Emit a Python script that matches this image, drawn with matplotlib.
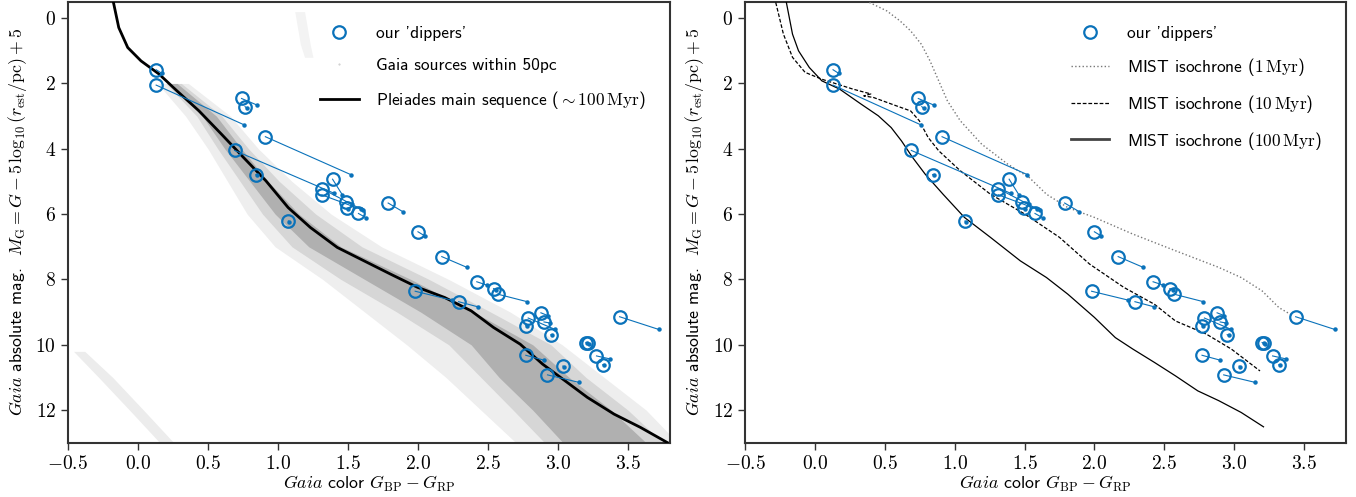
import numpy as np
import matplotlib
matplotlib.use("Agg")
from matplotlib import pyplot as plt
from matplotlib.lines import Line2D
from matplotlib.ticker import FormatStrFormatter, MultipleLocator

plt.rcParams['font.family'] = ['cmss10', 'DejaVu Sans']
plt.rcParams['mathtext.fontset'] = 'cm'
plt.rcParams['axes.unicode_minus'] = False

# dippers: observed position and end of the extinction vector
dip_col = [0.13, 0.13, 0.74, 0.765, 0.91, 0.69, 0.843, 1.074, 1.39, 1.313, 1.313, 1.485,
           1.494, 1.575, 1.787, 2.0, 2.17, 1.98, 2.29, 2.42, 2.54, 2.57, 2.878, 2.787,
           2.77, 2.90, 2.95, 3.20, 3.215, 2.77, 3.035, 2.925, 3.275, 3.32, 3.44]
dip_mag = [1.58, 2.05, 2.46, 2.71, 3.63, 4.05, 4.79, 6.21, 4.93, 5.22, 5.41, 5.62,
           5.82, 5.98, 5.66, 6.54, 7.30, 8.36, 8.68, 8.07, 8.28, 8.45, 9.02, 9.18,
           9.41, 9.30, 9.69, 9.93, 9.95, 10.32, 10.65, 10.92, 10.34, 10.61, 9.14]
end_col = [0.17, 0.76, 0.85, 0.78, 1.52, 1.40, 0.85, 1.08, 1.46, 1.59, 1.61, 1.53,
           1.50, 1.63, 1.89, 2.05, 2.35, 2.24, 2.43, 2.49, 2.56, 2.78, 2.93, 2.98,
           2.78, 2.94, 2.96, 3.21, 3.22, 2.90, 3.045, 3.15, 3.37, 3.33, 3.72]
end_mag = [1.69, 3.27, 2.66, 2.76, 4.79, 5.36, 4.81, 6.23, 5.41, 5.84, 5.88, 5.70,
           5.84, 6.11, 5.92, 6.67, 7.63, 8.63, 8.84, 8.17, 8.32, 8.68, 9.11, 9.53,
           9.43, 9.33, 9.71, 9.95, 9.97, 10.47, 10.67, 11.15, 10.43, 10.63, 9.53]

# Pleiades main sequence
ple_col = [-0.175, -0.137, -0.073, 0.022, 0.15, 0.277, 0.436, 0.596, 0.755, 0.914, 1.073,
           1.232, 1.424, 1.615, 1.806, 1.997, 2.19, 2.38, 2.54, 2.73, 2.89, 3.05, 3.21,
           3.40, 3.59, 3.78]
ple_mag = [-0.48, 0.29, 0.90, 1.31, 1.71, 2.22, 2.84, 3.55, 4.27, 4.98, 5.80,
           6.41, 7.02, 7.43, 7.84, 8.24, 8.55, 8.96, 9.47, 9.98, 10.59, 11.10, 11.61,
           12.12, 12.53, 12.99]

# Gaia 50pc density, drawn as bands (edges in colour at given magnitudes)
band_mag = [2.0, 3.0, 4.0, 5.0, 6.0, 7.0, 8.0, 9.0, 10.0, 11.0, 12.0, 13.2]
halo_lo = [0.14, 0.34, 0.50, 0.64, 0.78, 0.98, 1.32, 1.62, 1.92, 2.20, 2.45, 2.75]
halo_hi = [0.36, 0.66, 0.86, 1.10, 1.38, 1.74, 2.22, 2.66, 3.03, 3.33, 3.63, 3.90]
mid_lo = [0.20, 0.42, 0.57, 0.73, 0.89, 1.10, 1.45, 1.85, 2.22, 2.45, 2.68, 2.95]
mid_hi = [0.31, 0.60, 0.79, 1.01, 1.27, 1.60, 2.08, 2.52, 2.95, 3.20, 3.50, 3.80]
core_lo = [0.24, 0.46, 0.62, 0.80, 0.98, 1.22, 1.62, 2.02, 2.38, 2.58, 2.82, 3.08]
core_hi = [0.28, 0.56, 0.74, 0.93, 1.15, 1.45, 1.95, 2.40, 2.82, 3.08, 3.38, 3.68]
wd_mag = [10.2, 11.0, 12.0, 13.2]
wd_lo = [-0.46, -0.28, -0.06, 0.20]
wd_hi = [-0.38, -0.18, 0.04, 0.30]
gb_mag = [-0.2, 0.3, 0.8, 1.2]
gb_lo = [1.12, 1.14, 1.16, 1.19]
gb_hi = [1.19, 1.21, 1.23, 1.25]

# MIST isochrones
i1_col = [0.39, 0.515, 0.608, 0.685, 0.762, 0.824, 0.886, 0.948, 1.04, 1.194, 1.38, 1.534,
          1.657, 1.81, 2.0, 2.275, 2.58, 2.89, 3.05, 3.20, 3.32, 3.42]
i1_mag = [-0.48, -0.22, 0.08, 0.39, 0.80, 1.31, 1.92, 2.53, 3.14, 3.86, 4.47, 4.88,
          5.39, 5.80, 6.10, 6.61, 7.12, 7.63, 7.94, 8.35, 8.86, 9.11]
i10_col = [-0.28, -0.225, -0.16, -0.07, 0.05, 0.27, 0.33, 0.40, 0.35, 0.42, 0.58, 0.685,
           0.747, 0.81, 0.886, 1.04, 1.256, 1.503, 1.75, 1.966, 2.21, 2.43, 2.58, 2.80,
           2.98, 3.185]
i10_mag = [-0.48, 0.49, 1.20, 1.66, 1.87, 2.17, 2.24, 2.32, 2.38, 2.43, 2.68, 2.84,
           3.14, 3.65, 4.06, 4.67, 5.39, 6.0, 6.71, 7.53, 8.24, 8.76, 9.27, 9.67,
           10.13, 10.80]
i100_col = [-0.204, -0.16, -0.117, -0.04, 0.05, 0.176, 0.33, 0.454, 0.546, 0.62, 0.70, 0.79,
            0.917, 1.07, 1.256, 1.47, 1.657, 1.81, 2.0, 2.15, 2.275, 2.43, 2.58, 2.74,
            2.89, 3.05, 3.21]
i100_mag = [-0.48, 0.49, 1.0, 1.51, 1.92, 2.17, 2.63, 2.99, 3.35, 3.76, 4.27, 4.78,
            5.39, 6.10, 6.71, 7.43, 7.94, 8.45, 9.16, 9.78, 10.13, 10.54, 10.95, 11.41,
            11.71, 12.07, 12.51]

blue = '#0a72ba'


def draw_dippers(ax):
    for k in range(len(dip_col)):
        ax.plot([dip_col[k], end_col[k]], [dip_mag[k], end_mag[k]], color=blue, lw=0.8, zorder=4)
    ax.plot(end_col, end_mag, 'o', color=blue, ms=2.2, zorder=4)
    ax.plot(dip_col, dip_mag, 'o', mfc='none', mec=blue, mew=1.6, ms=9, zorder=5)


def style(ax):
    ax.set_xlim(-0.5, 3.8)
    ax.set_ylim(13.0, -0.5)
    ax.xaxis.set_major_locator(MultipleLocator(0.5))
    ax.yaxis.set_major_locator(MultipleLocator(2))
    ax.xaxis.set_major_formatter(FormatStrFormatter('$%.1f$'))
    ax.yaxis.set_major_formatter(FormatStrFormatter('$%d$'))
    ax.tick_params(direction='out', length=5, width=1.0, labelsize=14, color='#333333')
    for s in ax.spines.values():
        s.set_color('#333333')
        s.set_linewidth(1.5)
    ax.set_xlabel(r'$\mathit{Gaia}$ color $G_{\rm BP} - G_{\rm RP}$', fontsize=12.8, labelpad=1)
    ax.set_ylabel(r'$\mathit{Gaia}$ absolute mag.  $M_{\rm G} = G - 5\,\log_{10}(r_{\rm est}/{\rm pc}) + 5$',
                  fontsize=12.8, labelpad=5)


fig = plt.figure(figsize=(13.56, 4.97), dpi=100)
ax1 = fig.add_axes([0.0501, 0.109, 0.444, 0.8874])
ax2 = fig.add_axes([0.5494, 0.109, 0.4432, 0.8874])

# left panel
ax1.fill_betweenx(band_mag, halo_lo, halo_hi, color='#eeeeee', lw=0, zorder=1)
ax1.fill_betweenx(band_mag, mid_lo, mid_hi, color='#d6d6d6', lw=0, zorder=1)
ax1.fill_betweenx(band_mag, core_lo, core_hi, color='#b0b0b0', lw=0, zorder=1)
ax1.fill_betweenx(wd_mag, wd_lo, wd_hi, color='#ececec', lw=0, zorder=1)
ax1.fill_betweenx(gb_mag, gb_lo, gb_hi, color='#f3f3f3', lw=0, zorder=1)
ax1.plot(ple_col, ple_mag, color='black', lw=2, zorder=3)
draw_dippers(ax1)
style(ax1)
h1 = [Line2D([], [], ls='none', marker='o', mfc='none', mec=blue, mew=1.6, ms=9),
      Line2D([], [], ls='none', marker='.', color='#c8c8c8', ms=1),
      Line2D([], [], color='black', lw=2)]
ax1.legend(h1, ["our 'dippers'", 'Gaia sources within 50pc',
                r'Pleiades main sequence ($\sim 100\,\rm Myr$)'],
           loc='upper right', frameon=False, fontsize=12.5, labelspacing=0.95,
           handlelength=2.2, handletextpad=1.0, borderaxespad=1.0)

# right panel
ax2.plot(i1_col, i1_mag, color='#777777', lw=1.0, ls=':', zorder=3)
ax2.plot(i10_col, i10_mag, color='black', lw=0.9, ls=(0, (3, 1.5)), zorder=3)
ax2.plot(i100_col, i100_mag, color='black', lw=0.9, zorder=3)
draw_dippers(ax2)
style(ax2)
h2 = [Line2D([], [], ls='none', marker='o', mfc='none', mec=blue, mew=1.6, ms=9),
      Line2D([], [], color='#777777', lw=1.0, ls=':'),
      Line2D([], [], color='black', lw=0.9, ls=(0, (3, 1.5))),
      Line2D([], [], color='#444444', lw=2)]
ax2.legend(h2, ["our 'dippers'", r'MIST isochrone ($1\,\rm Myr$)',
                r'MIST isochrone ($10\,\rm Myr$)', r'MIST isochrone ($100\,\rm Myr$)'],
           loc='upper right', frameon=False, fontsize=12.5, labelspacing=0.85,
           handlelength=2.2, handletextpad=1.0, borderaxespad=1.0)

plt.savefig('out.png', dpi=100)
plt.close()
